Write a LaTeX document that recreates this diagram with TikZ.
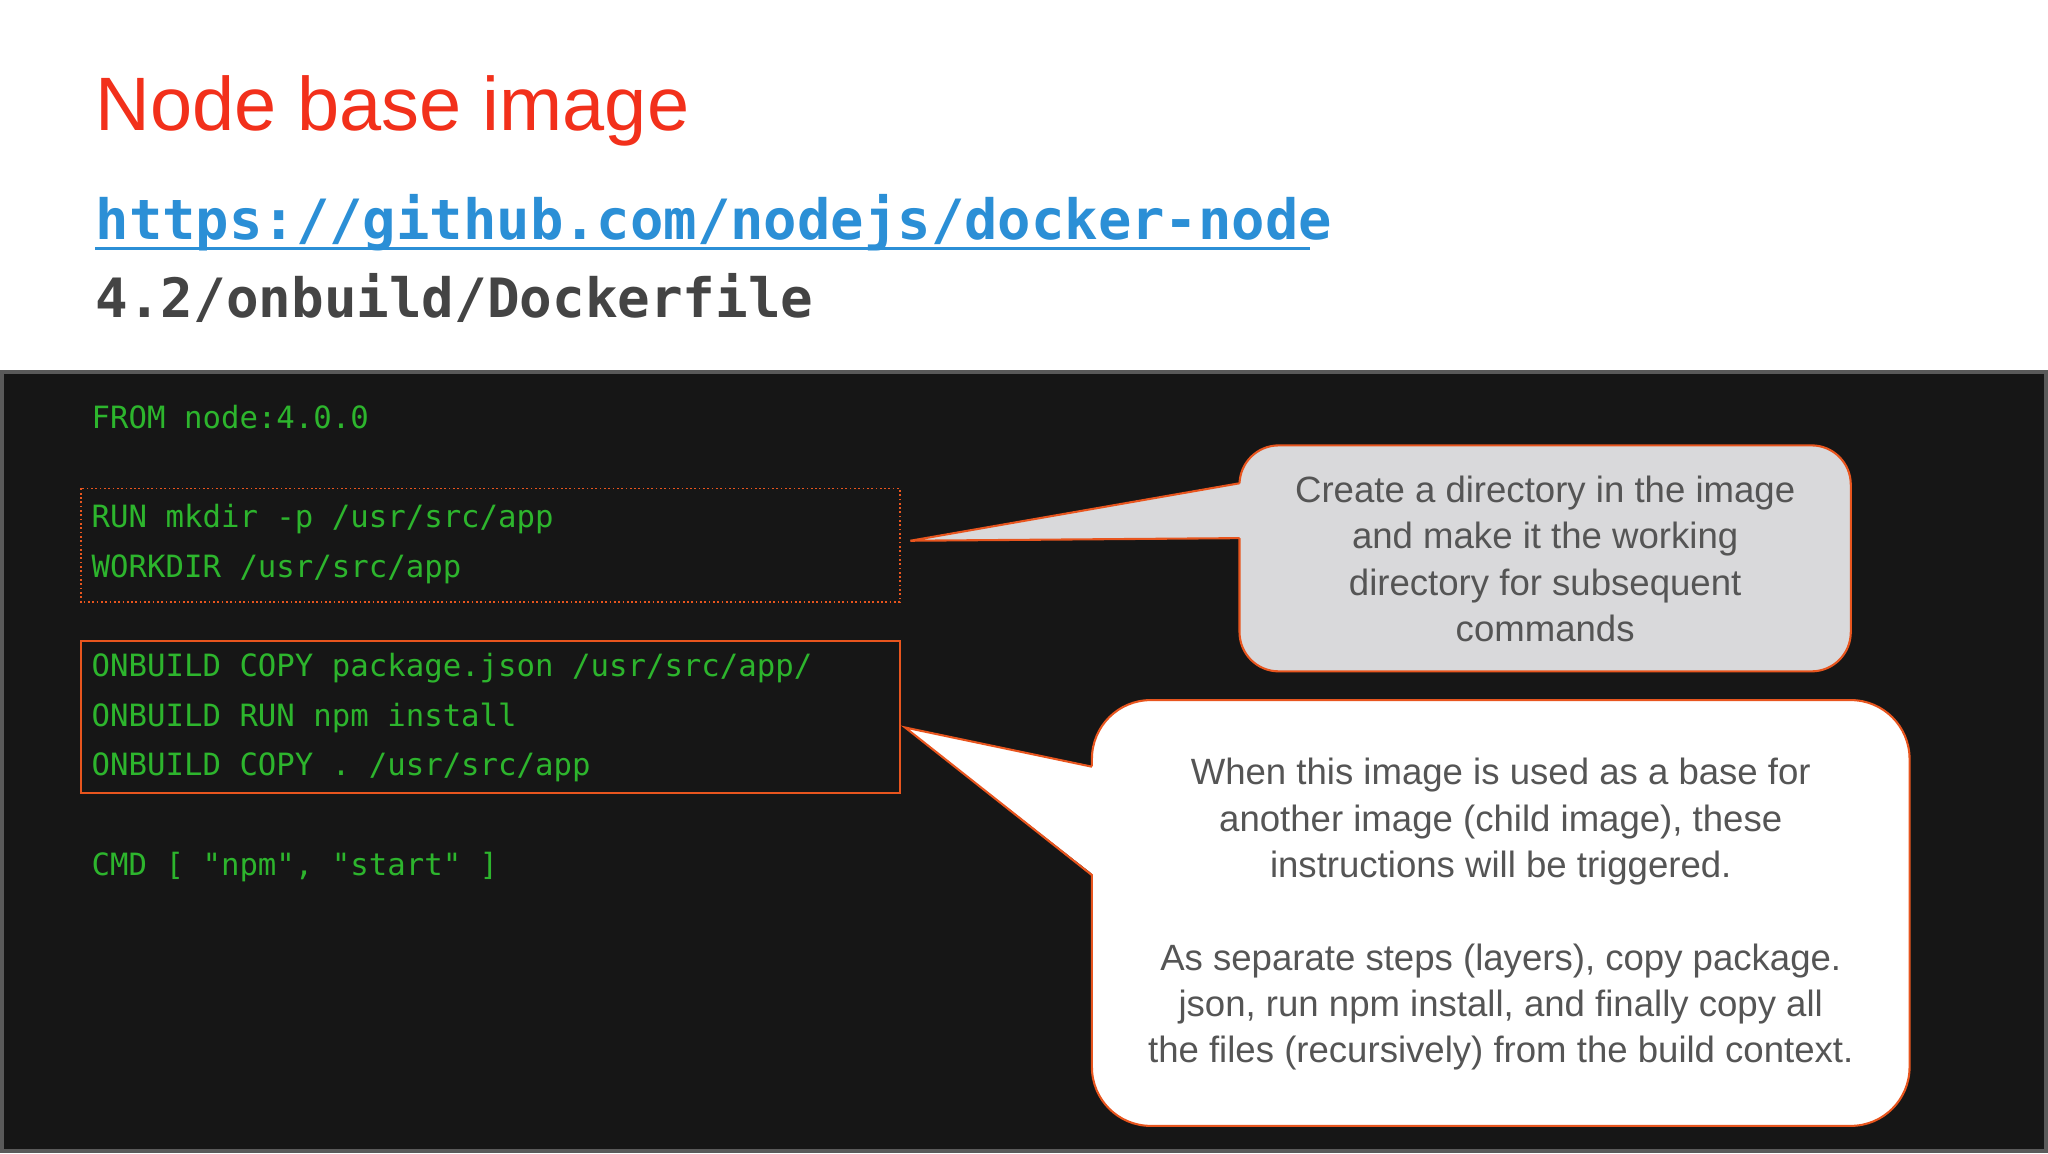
\documentclass[tikz,border=0pt]{standalone}
\usepackage{fontspec}
\setmainfont{Liberation Sans}
\newfontfamily\codefont{DejaVu Sans Mono}
\definecolor{titlered}{HTML}{F2301B}
\definecolor{linkblue}{HTML}{2B8FD6}
\definecolor{darkgrey}{HTML}{444444}
\definecolor{codegreen}{HTML}{2DB52D}
\definecolor{bgdark}{HTML}{161616}
\definecolor{framegrey}{HTML}{5A5A5A}
\definecolor{edgeorange}{HTML}{E8551E}
\definecolor{calloutgrey}{HTML}{D9D9DB}
\definecolor{textgrey}{HTML}{555555}
\begin{document}
\begin{tikzpicture}[x=1pt,y=-1pt,
  code/.style={anchor=base west,inner sep=0,text=codegreen,font=\codefont\fontsize{23.5}{28}\selectfont},
  callouttext/.style={align=center,text=textgrey,font=\fontsize{28}{35.5}\selectfont},
  bubble/.style={draw=edgeorange,line width=1.6pt}]
\useasboundingbox (0,0) rectangle (1568,883);
\fill[white] (0,0) rectangle (1568,883);
\draw[fill=bgdark,draw=framegrey,line width=3pt] (1.5,285) rectangle (1566.5,881.5);
\node[anchor=base west,inner sep=0,text=titlered,font=\fontsize{58}{60}\selectfont] (title) at (73,100) {Node base image};
\node[anchor=base west,inner sep=0,text=linkblue,font=\codefont\bfseries\fontsize{42.5}{46}\selectfont] (url) at (73,183) {https://github.com/nodejs/docker-node};
\draw[linkblue,line width=2.5pt] (73,190) -- (1003,190);
\node[anchor=base west,inner sep=0,text=darkgrey,font=\codefont\bfseries\fontsize{41.5}{46}\selectfont] (path) at (73,243) {4.2/onbuild/Dockerfile};
% code
\node[code] (l1) at (70,328) {FROM node:4.0.0};
\node[code] (l2) at (70,404) {RUN mkdir -p /usr/src/app};
\node[code] (l3) at (70,442) {WORKDIR /usr/src/app};
\node[code] (l4) at (70,518) {ONBUILD COPY package.json /usr/src/app/};
\node[code] (l5) at (70,556) {ONBUILD RUN npm install};
\node[code] (l6) at (70,594) {ONBUILD COPY . /usr/src/app};
\node[code] (l7) at (70,670) {CMD [ "npm", "start" ]};
\draw[edgeorange,dotted,line width=1.3pt] (62,374) rectangle (689,461);
\draw[edgeorange,line width=1.6pt] (62,491) rectangle (689,607);
% callout 1
\draw[bubble,fill=calloutgrey,rounded corners=30] (949,341) rectangle (1417,514);
\coordinate (t1) at (697,414);
\fill[calloutgrey] (950.5,370) -- (t1) -- (950.5,412) -- cycle;
\draw[bubble,line join=miter] (949,370) -- (t1) -- (949,412);
\node[callouttext] (c1) at (1183,428) {Create a directory in the image\\and make it the working\\directory for subsequent\\commands};
% callout 2
\draw[bubble,fill=white,rounded corners=45] (836,536) rectangle (1462,862);
\coordinate (t2) at (693,557);
\fill[white] (837.5,587) -- (t2) -- (837.5,670) -- cycle;
\draw[bubble,line join=miter] (836,587) -- (t2) -- (836,670);
\node[callouttext] (c2) at (1149,700) {When this image is used as a base for\\another image (child image), these\\instructions will be triggered.\\[35.5pt]As separate steps (layers), copy package.\\json, run npm install, and finally copy all\\the files (recursively) from the build context.};
\end{tikzpicture}
\end{document}
